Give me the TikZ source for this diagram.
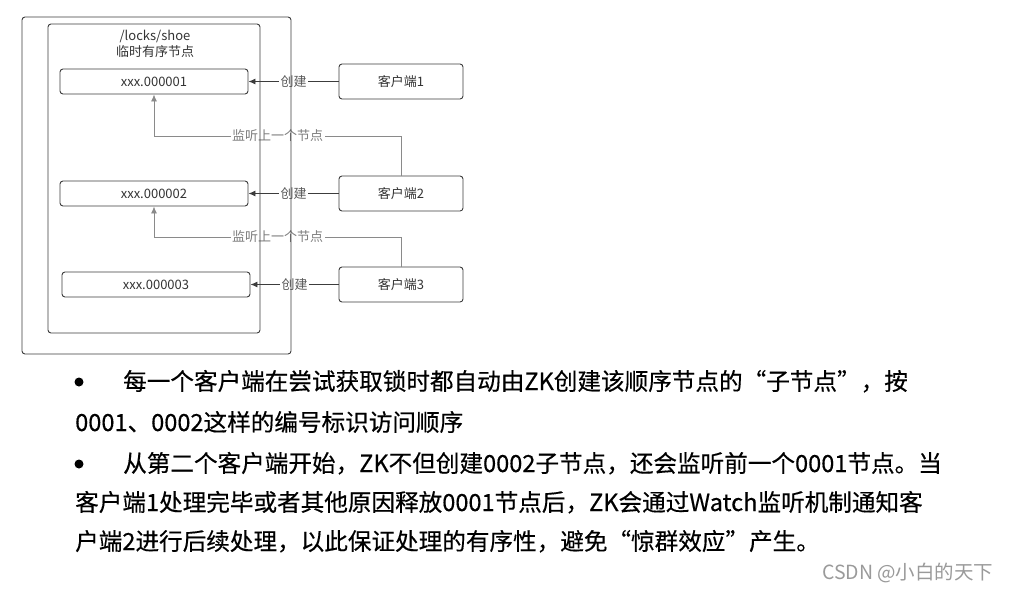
\documentclass[tikz,border=0pt]{standalone}
\usepackage{fontspec}
\setmainfont{Noto Sans CJK SC}
\usetikzlibrary{arrows.meta,positioning,calc}
\definecolor{edge}{HTML}{3C3C3C}
\definecolor{soft}{HTML}{8A8A8A}
\definecolor{ink}{HTML}{333333}
\definecolor{lbltxt}{HTML}{5A5A5A}
\definecolor{wmgray}{HTML}{9A9A9A}

\begin{document}
\begin{tikzpicture}[x=1pt,y=-1pt,
  small/.style={font=\fontsize{13}{16}\selectfont},
  body/.style={font=\fontsize{23.6}{28}\selectfont\addfontfeatures{FakeBold=0.4},text=black},
  znode/.style={small,draw=edge,line width=0.9pt,rounded corners=3pt,minimum width=188pt,minimum height=25pt,inner sep=0pt,text=ink},
  client/.style={znode,minimum width=124pt,minimum height=35pt},
  frame/.style={draw=edge,line width=0.9pt,rounded corners=3pt,inner sep=0pt},
  mk/.style={draw=edge,line width=0.9pt,-{Latex[length=7pt,width=6pt]}},
  watch/.style={draw=soft,line width=0.9pt,-{Latex[length=7pt,width=6pt]}},
  lbl/.style={small,fill=white,inner sep=1.5pt,text=lbltxt},
  dot/.style={circle,fill=black,inner sep=0pt,minimum size=9pt}]
\useasboundingbox (0,0) rectangle (1012,589);
\foreach \y/\id/\dx in {81.5/1/0,193.5/2/0,284.5/3/2}
{
  \node[znode] (n\id) at (154+\dx,\y) {xxx.00000\id};
  \node[client] (c\id) at (401,\y) {客户端\id};
}
\foreach \id in {1,2,3}{\draw[mk] (c\id) -- node[lbl]{创建} (n\id);}
\foreach \a/\b/\yy in {c2/n1/136,c3/n2/237}
{
  \coordinate (w\a) at (154,\yy);
  \draw[watch] (\a.north) |- node[lbl,pos=0.75,text=soft!90!black]{监听上一个节点} (w\a) -- (\b.south);
}
% lock folders drawn last, lines cross the labels
\node[frame,minimum width=212pt,minimum height=309pt] (lockdir) at (154,178.5) {};
\node[frame,minimum width=269pt,minimum height=337pt] (zkroot) at (156.5,185.5) {};
\node[small,text=ink,align=center] (ttl) at (155,44) {/locks/shoe\\临时有序节点};
\foreach \y/\id in {382/1,464/2}{\node[dot] (b\id) at (79,\y) {};}
\foreach \x/\y/\t in {
123/390/{每一个客户端在尝试获取锁时都自动由ZK创建该顺序节点的“子节点”，按},
75/431/{0001、0002这样的编号标识访问顺序},
123/472/{从第二个客户端开始，ZK不但创建0002子节点，还会监听前一个0001节点。当},
75/511/{客户端1处理完毕或者其他原因释放0001节点后，ZK会通过Watch监听机制通知客},
75/550/{户端2进行后续处理，以此保证处理的有序性，避免“惊群效应”产生。}}
{
  \node[body,anchor=base west,inner sep=0pt] at (\x,\y) {\t};
}
\node[anchor=base east,font=\fontsize{19.5}{22}\selectfont,text=wmgray] (wm) at (997,579) {CSDN @小白的天下};
\end{tikzpicture}
\end{document}
